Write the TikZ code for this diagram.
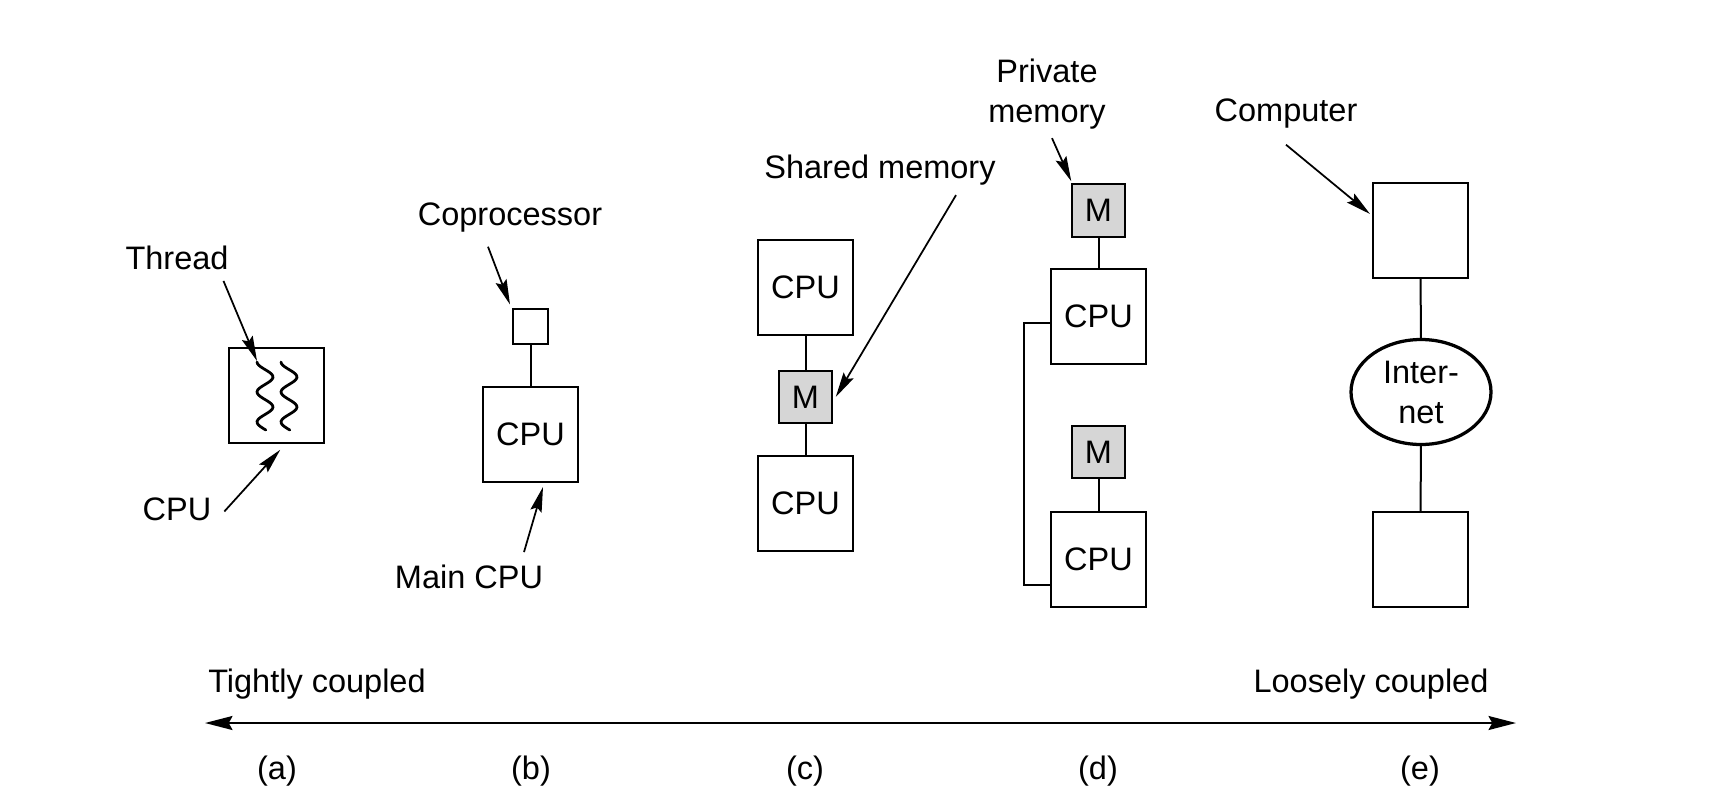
\documentclass[tikz,border=0pt]{standalone}
\usepackage{fontspec}
\setmainfont{Liberation Sans}
\usetikzlibrary{arrows.meta, shapes.geometric}
\definecolor{memgray}{RGB}{214,214,214}
\tikzset{box/.style = {draw, line width=0.8pt, minimum size=38pt, inner sep=0pt}}
\tikzset{mem/.style = {draw, line width=0.8pt, fill=memgray, minimum size=21pt, inner sep=0pt}}
\tikzset{lbl/.style = {inner sep=1pt, align=center}}
\tikzset{link/.style = {line width=0.8pt}}
\tikzset{squiggle/.style = {line width=1.1pt, line cap=round}}
\tikzset{pointer/.style = {-{Stealth[length=10pt, width=4.6pt, inset=1.5pt]}, line width=0.7pt}}

\begin{document}
\begin{tikzpicture}[x=0.4pt, y=-0.4pt, font=\fontsize{13}{16}\selectfont]
\useasboundingbox (0,0) rectangle (1713,807);
\node[box] (cpua) at (276.5,395) {};
\draw[squiggle] plot[smooth, domain=0:68, samples=40] ({265-8*cos(\x*12)}, {362+\x});
\draw[squiggle] plot[smooth, domain=0:68, samples=40] ({289-8*cos(\x*12)}, {362+\x});
\coordinate (thr) at (257,361);
\node[lbl] (lthread) at (177,258) {Thread};
\node[lbl] (lcpua) at (177,509) {CPU};
\draw[pointer] ([xshift=-3.2pt,yshift=-3.2pt]lthread.south east) -- (thr);
\draw[pointer] ([xshift=4pt,yshift=-1pt]lcpua.east) -- ([xshift=1.5pt,yshift=-2.5pt]cpua.south);

\node[box, minimum size=14pt] (copro) at (530.5,326) {};
\node[box] (cpub) at (530.5,434.5) {CPU};
\draw[link] (copro) -- (cpub);
\node[lbl] (lcopro) at (510,218) {Coprocessor};
\node[lbl] (lmain) at (469,577) {Main CPU};
\draw[pointer] ([xshift=-8.8pt,yshift=-4.4pt]lcopro.south) -- ([xshift=-0.8pt,yshift=1.2pt]copro.north west);
\draw[pointer] ([xshift=22pt,yshift=4pt]lmain.north) -- ([xshift=5pt,yshift=-1.6pt]cpub.south);

\node[box] (cpuc1) at (805.5,287) {CPU};
\node[mem] (mc) at (805.5,397) {M};
\node[box] (cpuc2) at (805.5,503) {CPU};
\draw[link] (cpuc1) -- (mc) -- (cpuc2);
\node[lbl] (lshared) at (880,170) {Shared memory};
\draw[pointer] ([xshift=30.4pt,yshift=-2.8pt]lshared.south) -- ([xshift=1.2pt]mc.east);

\node[mem] (md1) at (1098.5,210.5) {M};
\node[box] (cpud1) at (1098.5,316.5) {CPU};
\node[mem] (md2) at (1098.5,452) {M};
\node[box] (cpud2) at (1098.5,559) {CPU};
\draw[link] (md1) -- (cpud1);
\draw[link] (md2) -- (cpud2);
\draw[link] ([yshift=-2.6pt]cpud1.west) -- ++(-26,0) |- ([yshift=-10.4pt]cpud2.west);
\node[lbl] (lprivate) at (1047,94) {Private\\memory};
\draw[pointer] ([xshift=2pt,yshift=-2.4pt]lprivate.south) -- ([yshift=0.8pt]md1.north west);

\node[box] (pc1) at (1420.5,230) {};
\node[draw, ellipse, line width=1.3pt, minimum width=56pt, minimum height=42pt, inner sep=0pt, align=center] (net) at (1421,392) {Inter-\\net};
\node[box] (pc2) at (1420.5,559.5) {};
\draw[link] (pc1) -- (net) -- (pc2);
\node[lbl] (lcomp) at (1286,114) {Computer};
\draw[pointer] ([yshift=-5.2pt]lcomp.south) -- ([xshift=-0.8pt,yshift=6.4pt]pc1.west);

\coordinate (tight) at (205,723);
\coordinate (loose) at (1516,723);
\draw[{Stealth[length=11pt,width=5.6pt,inset=1.5pt]}-{Stealth[length=11pt,width=5.6pt,inset=1.5pt]}, line width=0.8pt] (tight) -- (loose);
\node[lbl] (ltight) at (317,684) {Tightly coupled};
\node[lbl] (lloose) at (1371,684) {Loosely coupled};
\foreach \x/\t in {277/a, 531/b, 805/c, 1098/d, 1420/e}
  \node[lbl] (cap\t) at (\x,771) {(\t)};
\end{tikzpicture}
\end{document}
